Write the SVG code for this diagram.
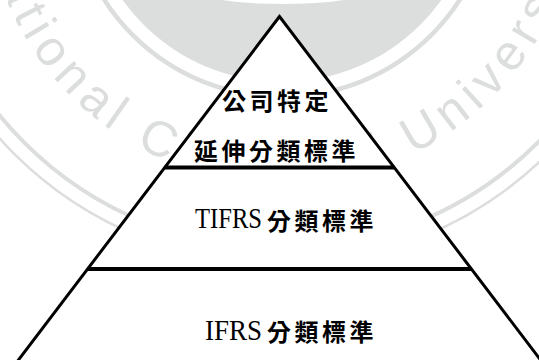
<svg xmlns="http://www.w3.org/2000/svg" xmlns:xlink="http://www.w3.org/1999/xlink" width="539" height="360" viewBox="0 0 539 360">
  <style>
    .wm { fill: #dcdddd; }
    .wmline { fill: none; stroke: #dcdddd; }
    .cjk { font-family: "Noto Sans CJK TC", "Noto Sans CJK SC", sans-serif; font-size: 24px; font-weight: 700; letter-spacing: 3.5px; fill: #000; }
    .lat { font-family: "Liberation Serif", "Times New Roman", serif; font-size: 30px; fill: #000; }
    .edge { fill: #fff; stroke: #000; stroke-width: 3; stroke-linejoin: miter; }
    .sep { stroke: #000; stroke-width: 4; }
    .wmtext { font-family: "Liberation Sans", Arial, sans-serif; font-size: 50px; letter-spacing: 7px; fill: #dcdddd; }
  </style>
  <defs>
    <path id="wmPath" d="M -16,-114 A 298 298 0 0 0 580,-114 A 298 298 0 0 0 -16,-114"/>
  </defs>
  <rect width="539" height="360" fill="#fff"/>
  <g id="watermark">
    <circle class="wm" cx="282" cy="-114" r="196"/>
    <ellipse cx="283" cy="-19" rx="110" ry="23" fill="#fff"/>
    <circle class="wmline" cx="282" cy="-114" r="211" stroke-width="4.5"/>
    <circle class="wmline" cx="281" cy="-114" r="363" stroke-width="4"/>
    <circle class="wmline" cx="281" cy="-114" r="378" stroke-width="2.5"/>
    <text class="wmtext"><textPath xlink:href="#wmPath" href="#wmPath" startOffset="54.5">National Chengchi University</textPath></text>
  </g>
  <g id="pyramid">
    <polygon class="edge" points="279.5,16.5 16.9,362 542.1,362"/>
  </g>
  <g id="connectors">
    <line class="sep" x1="164.7" y1="167.5" x2="394.3" y2="167.5"/>
    <line class="sep" x1="87.6" y1="269" x2="471.4" y2="269"/>
  </g>
  <g id="tier-top">
    <text class="cjk" x="222" y="110">公司特定</text>
    <text class="cjk" x="194" y="160">延伸分類標準</text>
  </g>
  <g id="tier-middle">
    <text class="lat" x="195" y="228" textLength="67" lengthAdjust="spacingAndGlyphs">TIFRS</text>
    <text class="cjk" x="267" y="230">分類標準</text>
  </g>
  <g id="tier-bottom">
    <text class="lat" x="205" y="340" textLength="57" lengthAdjust="spacingAndGlyphs">IFRS</text>
    <text class="cjk" x="267" y="341">分類標準</text>
  </g>
</svg>
